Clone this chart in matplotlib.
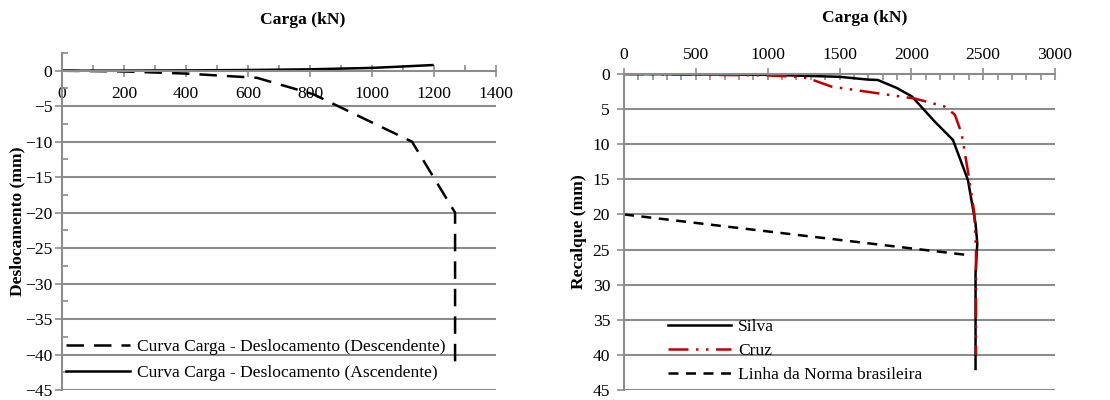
import matplotlib
matplotlib.use('Agg')
import matplotlib.pyplot as plt
from matplotlib.ticker import MultipleLocator

plt.rcParams['font.family'] = ['Liberation Serif', 'DejaVu Serif']
plt.rcParams['font.size'] = 12.6

# left chart: carga x deslocamento
desc_x = [0, 200, 400, 629, 810, 1129, 1268, 1268]
desc_y = [0, -0.1, -0.4, -1.0, -3.3, -10, -20, -42]
asc_x = [0, 200, 400, 600, 800, 1000, 1100, 1195]
asc_y = [0, 0.02, 0.05, 0.1, 0.2, 0.4, 0.6, 0.8]

# right chart: carga x recalque
silva_x = [0, 1000, 1500, 1700, 1766, 1900, 2004, 2164, 2290, 2394, 2447, 2459, 2447, 2447]
silva_y = [0, 0.1, 0.4, 0.8, 0.85, 2.0, 3.2, 6.8, 9.4, 15.1, 21.3, 24.1, 28.4, 42]
cruz_x = [0, 1000, 1200, 1281, 1445, 1768, 2025, 2234, 2303, 2350, 2396, 2438, 2450, 2450]
cruz_y = [0, 0.2, 0.4, 0.6, 1.8, 2.75, 3.5, 4.65, 5.8, 8.5, 14.1, 19.8, 25, 40]
norma_x = [0, 2400]
norma_y = [20, 25.8]

grid_c = '#8c8c8c'

fig = plt.figure(figsize=(11.1, 4), dpi=100)
ax1 = fig.add_axes([62 / 1110, 1 - 390 / 400, 434 / 1110, (390 - 53) / 400])
ax2 = fig.add_axes([624 / 1110, 1 - 390 / 400, 431 / 1110, (390 - 74) / 400])

# ---- left
ax1.plot(desc_x, desc_y, color='black', lw=1.8, dashes=(7, 4), label='Curva Carga - Deslocamento (Descendente)')
ax1.plot(asc_x, asc_y, color='black', lw=1.8, label='Curva Carga - Deslocamento (Ascendente)')
ax1.set_xlim(0, 1400)
ax1.set_ylim(-45, 2.5)
ax1.set_yticks(range(-45, 1, 5))
ax1.set_xticks(range(0, 1401, 200))
ax1.xaxis.set_minor_locator(MultipleLocator(100))
ax1.yaxis.set_minor_locator(MultipleLocator(2.5))
for v in range(-45, 0, 5):
    ax1.axhline(v, color=grid_c, lw=1.5, zorder=0)
ax1.spines['bottom'].set_position(('data', 0))
ax1.spines['bottom'].set_color(grid_c)
ax1.spines['bottom'].set_linewidth(1.5)
ax1.spines['left'].set_color(grid_c)
ax1.spines['left'].set_linewidth(1.5)
ax1.spines['top'].set_visible(False)
ax1.spines['right'].set_visible(False)
ax1.tick_params(axis='x', which='major', direction='inout', length=8, color=grid_c, width=1.2, pad=7)
ax1.tick_params(axis='x', which='minor', direction='in', length=4, color=grid_c, width=1.2)
ax1.tick_params(axis='y', which='major', direction='out', length=5, color=grid_c, width=1.2, pad=2)
ax1.tick_params(axis='y', which='minor', direction='in', length=4, color=grid_c, width=1.2)
ax1.set_ylabel('Deslocamento (mm)', fontweight='bold', labelpad=0)
ax1.legend(loc='lower left', frameon=False, handlelength=3.7, handletextpad=0.4,
           labelspacing=0.55, borderaxespad=0.0, bbox_to_anchor=(-0.008, 0.005))
fig.text(303 / 1110, 1 - 20 / 400, 'Carga (kN)', fontweight='bold', ha='center', va='center')

# ---- right
ax2.plot(silva_x, silva_y, color='black', lw=1.8, label='Silva')
ax2.plot(cruz_x, cruz_y, color='#c00000', lw=1.8, dashes=(8, 3, 1, 3, 1, 3), label='Cruz')
ax2.plot(norma_x, norma_y, color='black', lw=1.8, dashes=(4, 3), label='Linha da Norma brasileira')
ax2.set_xlim(0, 3000)
ax2.set_ylim(45, 0)
ax2.set_xticks(range(0, 3001, 500))
ax2.set_yticks(range(0, 46, 5))
ax2.xaxis.set_minor_locator(MultipleLocator(100))
ax2.xaxis.tick_top()
for v in range(5, 46, 5):
    ax2.axhline(v, color=grid_c, lw=1.5, zorder=0)
for s in ['top', 'left']:
    ax2.spines[s].set_color(grid_c)
    ax2.spines[s].set_linewidth(1.5)
ax2.spines['bottom'].set_visible(False)
ax2.spines['right'].set_visible(False)
ax2.tick_params(axis='x', which='major', direction='inout', length=8, color=grid_c, width=1.2, pad=4)
ax2.tick_params(axis='x', which='minor', direction='in', length=4, color=grid_c, width=1.2, top=True, bottom=False)
ax2.tick_params(axis='y', which='major', direction='out', length=5, color=grid_c, width=1.2, pad=5)
ax2.set_ylabel('Recalque (mm)', fontweight='bold', labelpad=4)
ax2.legend(loc='lower left', frameon=False, handlelength=3.6, handletextpad=0.4,
           labelspacing=0.45, borderaxespad=0.0, bbox_to_anchor=(0.086, 0.0))
fig.text(865 / 1110, 1 - 18 / 400, 'Carga (kN)', fontweight='bold', ha='center', va='center')

fig.savefig('out.png', dpi=100)
